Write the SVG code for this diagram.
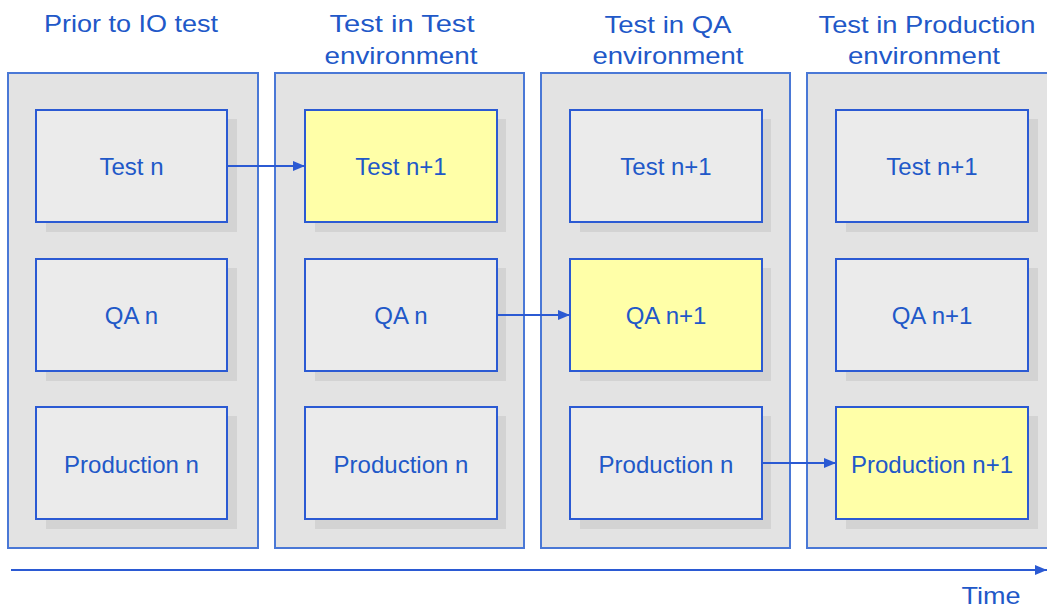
<svg xmlns="http://www.w3.org/2000/svg" width="1047" height="609" viewBox="0 0 1047 609">
<style>
.col{fill:#e3e3e3;stroke:#4a78d6;stroke-width:2}
.box{fill:#ebebeb;stroke:#2b5ad3;stroke-width:2}
.hl{fill:#ffffa8;stroke:#2b5ad3;stroke-width:2}
.sh{fill:#d3d3d3}
.lbl{font-family:"Liberation Sans",Arial,sans-serif;font-size:24px;fill:#2158c8;text-anchor:middle}
.hdr{font-family:"Liberation Sans",Arial,sans-serif;font-size:24px;fill:#2158c8;text-anchor:middle}
.con{stroke:#2b5ad3;stroke-width:2;fill:none}
</style>
<defs>
<marker id="ah" markerWidth="12" markerHeight="10" refX="12" refY="5" orient="auto" markerUnits="userSpaceOnUse">
<path d="M0,0 L12,5 L0,10 Z" fill="#2b5ad3"/>
</marker>
</defs>
<rect width="1047" height="609" fill="#ffffff"/>
<g id="headers">
<text class="hdr" x="131" y="32" textLength="174" lengthAdjust="spacingAndGlyphs">Prior to IO test</text>
<text class="hdr" x="402" y="32" textLength="145" lengthAdjust="spacingAndGlyphs">Test in Test</text>
<text class="hdr" x="401" y="64" textLength="153" lengthAdjust="spacingAndGlyphs">environment</text>
<text class="hdr" x="668" y="33" textLength="127" lengthAdjust="spacingAndGlyphs">Test in QA</text>
<text class="hdr" x="668" y="64" textLength="151" lengthAdjust="spacingAndGlyphs">environment</text>
<text class="hdr" x="927" y="33" textLength="217" lengthAdjust="spacingAndGlyphs">Test in Production</text>
<text class="hdr" x="924" y="64" textLength="152" lengthAdjust="spacingAndGlyphs">environment</text>
</g>
<g id="col-prior">
<rect class="col" x="8" y="73" width="250" height="475"/>
</g>
<g id="col-test">
<rect class="col" x="275" y="73" width="249" height="475"/>
</g>
<g id="col-qa">
<rect class="col" x="541" y="73" width="249" height="475"/>
</g>
<g id="col-prod">
<rect class="col" x="807" y="73" width="250" height="475"/>
</g>
<g id="prior-test"><rect class="sh" x="46" y="119" width="191" height="113"/><rect class="box" x="36" y="110" width="191" height="112"/><text class="lbl" x="131.5" y="175">Test n</text></g>
<g id="prior-qa"><rect class="sh" x="46" y="268" width="191" height="113"/><rect class="box" x="36" y="259" width="191" height="112"/><text class="lbl" x="131.5" y="324">QA n</text></g>
<g id="prior-prod"><rect class="sh" x="46" y="416" width="191" height="113"/><rect class="box" x="36" y="407" width="191" height="112"/><text class="lbl" x="131.5" y="473">Production n</text></g>
<g id="test-test"><rect class="sh" x="315" y="119" width="191" height="113"/><rect class="hl" x="305" y="110" width="192" height="112"/><text class="lbl" x="401" y="175">Test n+1</text></g>
<g id="test-qa"><rect class="sh" x="315" y="268" width="191" height="113"/><rect class="box" x="305" y="259" width="192" height="112"/><text class="lbl" x="401" y="324">QA n</text></g>
<g id="test-prod"><rect class="sh" x="315" y="416" width="191" height="113"/><rect class="box" x="305" y="407" width="192" height="112"/><text class="lbl" x="401" y="473">Production n</text></g>
<g id="qa-test"><rect class="sh" x="580" y="119" width="191" height="113"/><rect class="box" x="570" y="110" width="192" height="112"/><text class="lbl" x="666" y="175">Test n+1</text></g>
<g id="qa-qa"><rect class="sh" x="580" y="268" width="191" height="113"/><rect class="hl" x="570" y="259" width="192" height="112"/><text class="lbl" x="666" y="324">QA n+1</text></g>
<g id="qa-prod"><rect class="sh" x="580" y="416" width="191" height="113"/><rect class="box" x="570" y="407" width="192" height="112"/><text class="lbl" x="666" y="473">Production n</text></g>
<g id="prod-test"><rect class="sh" x="846" y="119" width="192" height="113"/><rect class="box" x="836" y="110" width="192" height="112"/><text class="lbl" x="932" y="175">Test n+1</text></g>
<g id="prod-qa"><rect class="sh" x="846" y="268" width="192" height="113"/><rect class="box" x="836" y="259" width="192" height="112"/><text class="lbl" x="932" y="324">QA n+1</text></g>
<g id="prod-prod"><rect class="sh" x="846" y="416" width="192" height="113"/><rect class="hl" x="836" y="407" width="192" height="112"/><text class="lbl" x="932" y="473">Production n+1</text></g>
<g id="connectors">
<line class="con" x1="227" y1="166" x2="305" y2="166" marker-end="url(#ah)"/>
<line class="con" x1="497" y1="315" x2="570" y2="315" marker-end="url(#ah)"/>
<line class="con" x1="762" y1="463" x2="836" y2="463" marker-end="url(#ah)"/>
<line class="con" x1="11" y1="570" x2="1047" y2="570" marker-end="url(#ah)"/>
</g>
<g id="time-label">
<text class="hdr" x="991" y="604" textLength="59" lengthAdjust="spacingAndGlyphs">Time</text>
</g>
</svg>
